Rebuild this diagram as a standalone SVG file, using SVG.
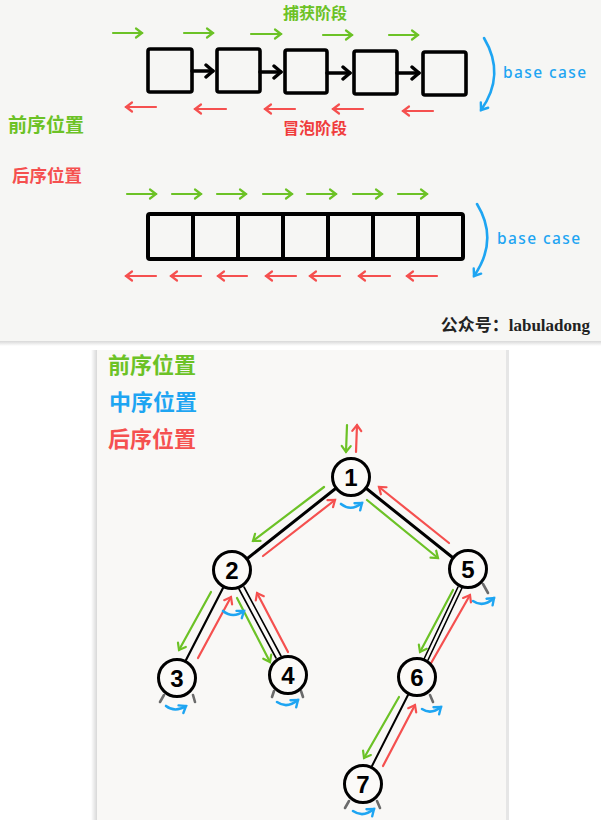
<svg xmlns="http://www.w3.org/2000/svg" width="601" height="820" viewBox="0 0 601 820">
<defs>
<style>
.g{stroke:#6cc226;stroke-width:2.2;fill:none;stroke-linecap:round}
.r{stroke:#f5504f;stroke-width:2.2;fill:none;stroke-linecap:round}
.b{stroke:#1ea5f2;stroke-width:2.6;fill:none;stroke-linecap:round}
.k{stroke:#000;stroke-width:3.5;fill:none;stroke-linecap:round}
.e{stroke:#000;fill:none;stroke-linecap:round}
.box{stroke:#000;stroke-width:3.6;fill:none;stroke-linejoin:round}
.stub{stroke:#6b6b6b;stroke-width:2.6;stroke-linecap:round}
.node circle{fill:#fbfaf8;stroke:#000;stroke-width:3}
.node text{font-family:"Liberation Sans","Noto Sans",sans-serif;font-weight:bold;font-size:24px;text-anchor:middle;fill:#000}
.cjk{font-family:"Noto Sans CJK SC",sans-serif;font-weight:bold}
.bc{font-family:"Noto Sans","DejaVu Sans",sans-serif;font-size:15.5px;font-weight:500;fill:#1ea5f2;letter-spacing:1.4px}
</style>
<marker id="mg" markerUnits="userSpaceOnUse" markerWidth="14" markerHeight="14" viewBox="-10 -7 14 14" refX="0" refY="0" orient="auto"><path d="M-6,-4.5 L0,0 L-6,4.5" fill="none" stroke="#6cc226" stroke-width="2.2" stroke-linecap="round"/></marker>
<marker id="mr" markerUnits="userSpaceOnUse" markerWidth="14" markerHeight="14" viewBox="-10 -7 14 14" refX="0" refY="0" orient="auto"><path d="M-6,-4.5 L0,0 L-6,4.5" fill="none" stroke="#f5504f" stroke-width="2.2" stroke-linecap="round"/></marker>
<marker id="mb" markerUnits="userSpaceOnUse" markerWidth="14" markerHeight="14" viewBox="-10 -7 14 14" refX="0" refY="0" orient="auto"><path d="M-6,-4.5 L0,0 L-6,4.5" fill="none" stroke="#1ea5f2" stroke-width="2.4" stroke-linecap="round"/></marker>
<marker id="mk" markerUnits="userSpaceOnUse" markerWidth="16" markerHeight="16" viewBox="-12 -8 16 16" refX="0" refY="0" orient="auto"><path d="M-7,-6 L0,0 L-7,6" fill="none" stroke="#000" stroke-width="3.4" stroke-linecap="round" stroke-linejoin="round"/></marker>
<linearGradient id="shTop" x1="0" y1="0" x2="0" y2="1"><stop offset="0" stop-color="#d8d8d8"/><stop offset="1" stop-color="#ffffff"/></linearGradient>
<linearGradient id="shL" x1="1" y1="0" x2="0" y2="0"><stop offset="0" stop-color="#d8d8d8"/><stop offset="1" stop-color="#ffffff"/></linearGradient>
</defs>
<rect x="0" y="0" width="601" height="820" fill="#ffffff"/>
<g id="top-panel">
<rect x="0" y="341" width="601" height="5" fill="url(#shTop)"/>
<rect x="0" y="0" width="601" height="341" fill="#f6f6f4"/>
<text x="315" y="19" class="cjk" font-size="16" fill="#6cc226" text-anchor="middle">捕获阶段</text>
<text x="315" y="134" class="cjk" font-size="16" fill="#f03c3c" text-anchor="middle">冒泡阶段</text>
<text x="8" y="132" class="cjk" font-size="19" fill="#6cc226">前序位置</text>
<text x="12" y="182" class="cjk" font-size="17.5" fill="#f5504f">后序位置</text>
<text x="503" y="78" class="bc">base case</text>
<text x="497" y="244" class="bc">base case</text>
<text x="590" y="331" font-family="'Liberation Serif','Noto Sans CJK SC',serif" font-weight="bold" font-size="17" fill="#222" text-anchor="end">公众号：labuladong</text>
</g>
<g id="list-nodes">
<rect id="l1" class="box" x="148" y="49" width="44" height="43" rx="2"/>
<rect id="l2" class="box" x="217" y="49" width="43" height="43" rx="2"/>
<rect id="l3" class="box" x="285" y="50" width="42" height="43" rx="2"/>
<rect id="l4" class="box" x="354" y="51" width="43" height="43" rx="2"/>
<rect id="l5" class="box" x="423" y="52" width="43" height="43" rx="2"/>
</g>
<g id="array">
<rect class="box" x="148" y="214" width="315" height="45" rx="2" style="stroke-width:4"/>
<path d="M193,214V259M238,214V259M283,214V259M328,214V259M373,214V259M418,214V259" stroke="#000" stroke-width="4"/>
</g>
<g id="top-connectors">
<path class="k" d="M192,71H213" marker-end="url(#mk)"/>
<path class="k" d="M260,72H281" marker-end="url(#mk)"/>
<path class="k" d="M327,73H350" marker-end="url(#mk)"/>
<path class="k" d="M397,73H419" marker-end="url(#mk)"/>
<path class="g" d="M113,33H142" marker-end="url(#mg)"/>
<path class="g" d="M184,33H213" marker-end="url(#mg)"/>
<path class="g" d="M251,34H281" marker-end="url(#mg)"/>
<path class="g" d="M323,35H352" marker-end="url(#mg)"/>
<path class="g" d="M389,35H418" marker-end="url(#mg)"/>
<path class="r" d="M156,107H126" marker-end="url(#mr)"/>
<path class="r" d="M226,109H195" marker-end="url(#mr)"/>
<path class="r" d="M295,109H265" marker-end="url(#mr)"/>
<path class="r" d="M363,109H333" marker-end="url(#mr)"/>
<path class="r" d="M433,111H403" marker-end="url(#mr)"/>
<path class="g" d="M127,194H156" marker-end="url(#mg)"/>
<path class="g" d="M172,194H201" marker-end="url(#mg)"/>
<path class="g" d="M217,194H246" marker-end="url(#mg)"/>
<path class="g" d="M263,194H292" marker-end="url(#mg)"/>
<path class="g" d="M307,194H336" marker-end="url(#mg)"/>
<path class="g" d="M353,194H382" marker-end="url(#mg)"/>
<path class="g" d="M398,194H427" marker-end="url(#mg)"/>
<path class="r" d="M156,276H126" marker-end="url(#mr)"/>
<path class="r" d="M201,276H171" marker-end="url(#mr)"/>
<path class="r" d="M247,276H218" marker-end="url(#mr)"/>
<path class="r" d="M296,276H266" marker-end="url(#mr)"/>
<path class="r" d="M340,276H310" marker-end="url(#mr)"/>
<path class="r" d="M390,276H359" marker-end="url(#mr)"/>
<path class="r" d="M437,276H407" marker-end="url(#mr)"/>
<path class="b" d="M484,38Q506,75 481,110" marker-end="url(#mb)"/>
<path class="b" d="M477,204Q499,240 474,276" marker-end="url(#mb)"/>
</g>
<g id="bottom-panel">
<rect x="91" y="350" width="6" height="470" fill="url(#shL)"/>
<rect x="97" y="350" width="409" height="470" fill="#f9f8f6"/>
<rect x="506" y="350" width="3" height="470" fill="#e6e6e6"/>
<text x="108" y="373" class="cjk" font-size="22" fill="#6cc226">前序位置</text>
<text x="109" y="410" class="cjk" font-size="22" fill="#1ea5f2">中序位置</text>
<text x="108" y="447" class="cjk" font-size="22" fill="#f5504f">后序位置</text>
</g>
<g id="tree-connectors">
<path class="e" style="stroke-width:3" d="M335,489L248,558"/>
<path class="e" style="stroke-width:3" d="M367,489L452,557"/>
<path class="e" style="stroke-width:2.2" d="M223,588L186,660"/>
<path class="e" style="stroke-width:1.6" d="M239,589L276,658M244,587L281,656"/>
<path class="e" style="stroke-width:1.6" d="M458,587L424,659M462,588L428,660"/>
<path class="e" style="stroke-width:2" d="M408,695L372,766"/>
<path class="g" d="M347,425L346,452" marker-end="url(#mg)"/>
<path class="r" d="M356,452L357,425" marker-end="url(#mr)"/>
<path class="g" d="M324,487L253,541" marker-end="url(#mg)"/>
<path class="r" d="M263,556L335,500" marker-end="url(#mr)"/>
<path class="g" d="M367,500L438,558" marker-end="url(#mg)"/>
<path class="r" d="M449,543L379,487" marker-end="url(#mr)"/>
<path class="g" d="M211,592L179,650" marker-end="url(#mg)"/>
<path class="r" d="M198,658L231,597" marker-end="url(#mr)"/>
<path class="g" d="M237,598L270,662" marker-end="url(#mg)"/>
<path class="r" d="M288,652L257,593" marker-end="url(#mr)"/>
<path class="g" d="M453,590L420,652" marker-end="url(#mg)"/>
<path class="r" d="M430,665L470,595" marker-end="url(#mr)"/>
<path class="g" d="M399,697L364,758" marker-end="url(#mg)"/>
<path class="r" d="M383,766L415,705" marker-end="url(#mr)"/>
<path class="b" d="M341,504Q351,512 362,503" marker-end="url(#mb)"/>
<path class="b" d="M223,611Q233,619 244,611" marker-end="url(#mb)"/>
<path class="b" d="M166,706Q175,713 186,706" marker-end="url(#mb)"/>
<path class="b" d="M277,702Q287,709 298,700" marker-end="url(#mb)"/>
<path class="b" d="M473,601Q483,608 494,598" marker-end="url(#mb)"/>
<path class="b" d="M422,709Q431,715 441,707" marker-end="url(#mb)"/>
<path class="b" d="M353,811Q363,818 374,809" marker-end="url(#mb)"/>
<path class="stub" d="M160,702L164,695M195,702L193,695"/>
<path class="stub" d="M272,697L274,691M303,697L301,691"/>
<path class="stub" d="M483,584L488,593"/>
<path class="stub" d="M430,695L433,702"/>
<path class="stub" d="M345,808L349,801M380,808L377,801"/>
</g>
<g id="n1" class="node"><circle cx="351" cy="477" r="18.5"/><text x="351" y="486">1</text></g>
<g id="n2" class="node"><circle cx="232" cy="570" r="18.5"/><text x="232" y="579">2</text></g>
<g id="n5" class="node"><circle cx="468" cy="569" r="18.5"/><text x="468" y="578">5</text></g>
<g id="n3" class="node"><circle cx="177" cy="678" r="18.5"/><text x="177" y="687">3</text></g>
<g id="n4" class="node"><circle cx="288" cy="675" r="18.5"/><text x="288" y="684">4</text></g>
<g id="n6" class="node"><circle cx="417" cy="677" r="18.5"/><text x="417" y="686">6</text></g>
<g id="n7" class="node"><circle cx="363" cy="784" r="18.5"/><text x="363" y="793">7</text></g>
</svg>
